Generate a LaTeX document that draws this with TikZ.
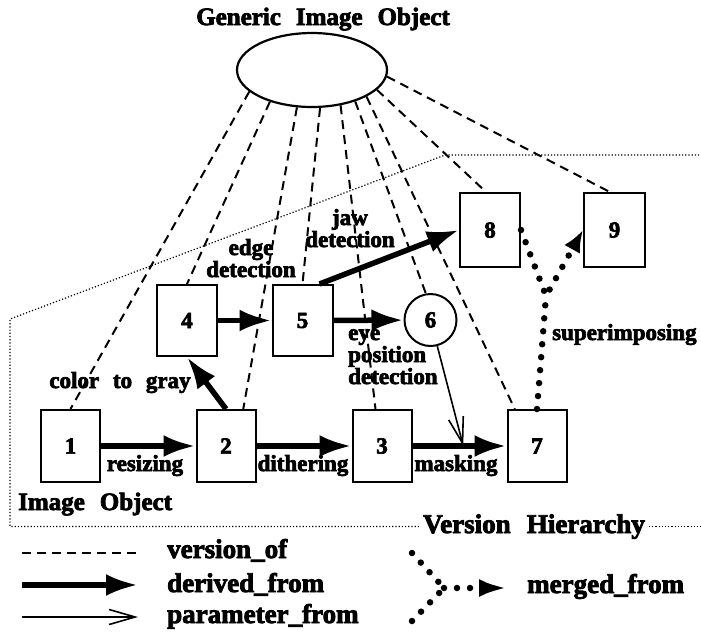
\documentclass[tikz,border=0pt]{standalone}
\usepackage{fontspec}
\setmainfont[WordSpace=2.4, BoldFeatures={FakeBold=3}]{Liberation Serif}
\usepackage{tikz}
\usetikzlibrary{arrows.meta,calc,shapes.geometric}

\tikzset{
    obj/.style={draw, line width=2pt, minimum width=59pt, minimum height=72pt, inner sep=0pt, font=\fontsize{23}{22}\selectfont\bfseries},
    lbl/.style={inner sep=0pt, font=\fontsize{23}{22}\selectfont\bfseries},
    biglbl/.style={inner sep=0pt, font=\fontsize{25}{25}\selectfont\bfseries},
    leglbl/.style={inner sep=0pt, font=\fontsize{27}{27}\selectfont\bfseries},
    versionof/.style={line width=2pt, dash pattern=on 9pt off 6pt},
    derived/.style={line width=5.5pt, -{Latex[length=32pt,width=22pt]}},
    param/.style={line width=1.6pt, -{Straight Barb[length=26pt,width=15pt,line width=1.6pt]}},
    merged/.style={line width=6.5pt, line cap=round, dash pattern=on 0pt off 13pt},
    frame/.style={line width=1.2pt, dotted}
}

\begin{document}
\begin{tikzpicture}[x=1pt,y=1pt]
    \useasboundingbox (0,0) rectangle (701,-635);
    \node[biglbl, anchor=base] (title) at (323,-25) {Generic Image Object};
    \node[draw, ellipse, line width=2.2pt, minimum width=150pt, minimum height=74pt, inner sep=0pt] (gen) at (312,-70) {};
    \node[obj] (b1) at (70.5,-446) {1};
    \node[obj] (b2) at (226,-446) {2};
    \node[obj] (b3) at (382,-446) {3};
    \node[obj] (b7) at (537,-446) {7};
    \node[obj, minimum width=60pt, minimum height=71pt] (b4) at (187,-320.5) {4};
    \node[obj, minimum width=60pt, minimum height=71pt] (b5) at (302.5,-320.5) {5};
    \node[obj, circle, minimum size=52pt] (c6) at (430.5,-320) {6};
    \node[obj, minimum width=60pt, minimum height=74pt] (b8) at (490,-230) {8};
    \node[obj, minimum width=61pt, minimum height=74pt] (b9) at (614.5,-230) {9};
    \draw[versionof] (gen.199) -- (b1.north);
    \draw[versionof] (gen.217) -- (b4.north);
    \draw[versionof] (gen.248) -- (b2.65);
    \draw[versionof] (gen.282) -- (b5.north);
    \draw[versionof] (gen.309) -- (b3.100);
    \draw[versionof] (gen.324) -- (c6.100);
    \draw[versionof] (gen.334) -- (b7.121);
    \draw[versionof] (gen.343) -- (b8.96);
    \draw[versionof] (gen.355) -- (b9.97);
    \draw[derived] (b1) -- (b2);
    \draw[derived] (b2) -- (b3);
    \draw[derived] (b3) -- (b7);
    \draw[derived] (b2.north) -- (b4.south);
    \draw[derived] (b4) -- (b5);
    \draw[derived] (b5) -- (c6);
    \draw[derived] (b5.65) -- (b8.west);
    \coordinate (mask) at ($(b3.east)!0.54!(b7.west)$);
    \draw[param] (c6) -- (mask);
    \coordinate (join) at (546,-296);
    \draw[merged] (b7.north) -- (join);
    \draw[merged, -{Latex[length=22pt,width=18pt]}] (b8.east) -- (join) -- (b9.west);
    \node[lbl, anchor=base] (rsz) at (145,-471) {resizing};
    \node[lbl, anchor=base] (dth) at (303,-471) {dithering};
    \node[lbl, anchor=base] (msk) at (456,-471) {masking};
    \node[lbl, anchor=base] (ctg) at (120,-388) {color to gray};
    \node[lbl, anchor=base, align=center] (edg) at (251,-277) {edge\\detection};
    \node[lbl, anchor=base, align=center] (jaw) at (350,-247) {jaw\\detection};
    \node[lbl, anchor=base west, align=left] (eye) at (348,-384) {eye\\position\\detection};
    \node[lbl, anchor=base west] (sup) at (552,-340) {superimposing};
    \node[biglbl, anchor=base west] (imgobj) at (18,-510) {Image Object};
    \node[leglbl, anchor=base, inner sep=4pt] (vh) at (534,-533) {Version Hierarchy};
    \draw[frame] (vh.west) -- (10,0 |- vh.west) -- (10,-319) -- (445,-155) -- (701,-155);
    \draw[frame] (vh.east) -- (701,0 |- vh.east);
    \coordinate (lv1) at (22,-553);
    \coordinate (lv2) at (138,-553);
    \coordinate (ld1) at (22,-585);
    \coordinate (ld2) at (138,-585);
    \coordinate (lp1) at (22,-617);
    \coordinate (lp2) at (138,-617);
    \draw[versionof] (lv1) -- (lv2);
    \draw[derived] (ld1) -- (ld2);
    \draw[param] (lp1) -- (lp2);
    \node[leglbl, anchor=base west] (lvt) at (167,-558) {version\_of};
    \node[leglbl, anchor=base west] (ldt) at (167,-592) {derived\_from};
    \node[leglbl, anchor=base west] (lpt) at (167,-623) {parameter\_from};
    \coordinate (lm1) at (412,-553);
    \coordinate (lm2) at (412,-621);
    \coordinate (lmj) at (444,-588);
    \coordinate (lm3) at (507,-588);
    \draw[merged] (lm1) -- (lmj);
    \draw[merged] (lm2) -- (lmj);
    \draw[merged, -{Latex[length=28pt,width=18pt]}] (lmj) -- (lm3);
    \node[leglbl, anchor=base west] (lmt) at (527,-593) {merged\_from};
\end{tikzpicture}
\end{document}
